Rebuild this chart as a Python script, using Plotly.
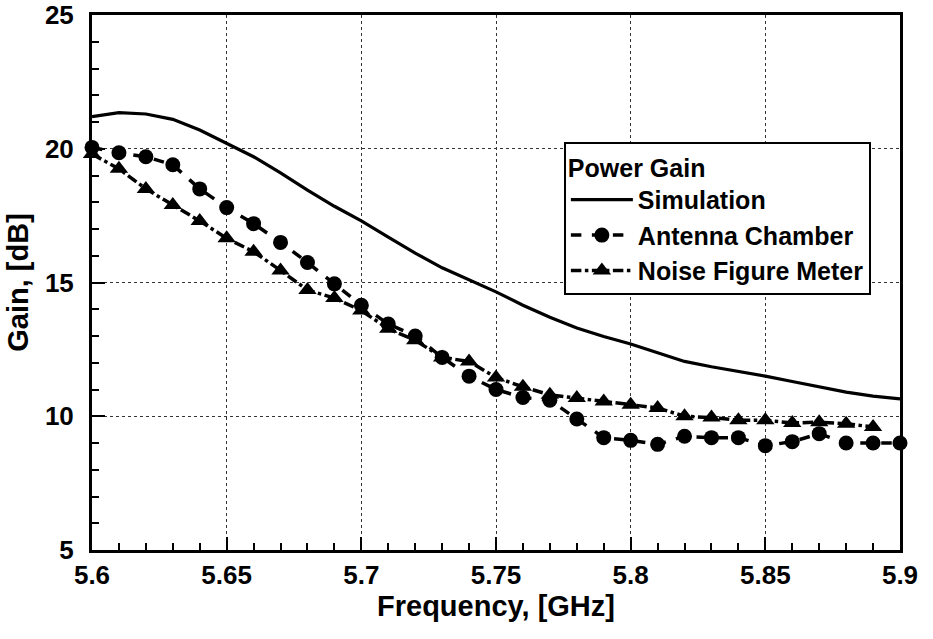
import plotly.graph_objects as go

freq = [5.60, 5.61, 5.62, 5.63, 5.64, 5.65, 5.66, 5.67, 5.68, 5.69,
        5.70, 5.71, 5.72, 5.73, 5.74, 5.75, 5.76, 5.77, 5.78, 5.79,
        5.80, 5.81, 5.82, 5.83, 5.84, 5.85, 5.86, 5.87, 5.88, 5.89, 5.90]

simulation = [21.2, 21.35, 21.3, 21.1, 20.7, 20.2, 19.7, 19.1, 18.45, 17.85,
              17.3, 16.7, 16.1, 15.55, 15.1, 14.65, 14.15, 13.7, 13.3, 12.98,
              12.7, 12.37, 12.05, 11.85, 11.68, 11.5, 11.3, 11.1, 10.9, 10.75, 10.65]

antenna = [20.05, 19.85, 19.7, 19.4, 18.5, 17.8, 17.2, 16.5, 15.75, 14.95,
           14.15, 13.45, 13.0, 12.2, 11.5, 11.0, 10.7, 10.6, 9.9, 9.2,
           9.1, 8.95, 9.25, 9.2, 9.2, 8.9, 9.05, 9.35, 9.0, 9.0, 9.0]

freq_nfm = freq[:-1]
noise_meter = [19.8, 19.25, 18.5, 17.9, 17.3, 16.65, 16.15, 15.45, 14.72, 14.42,
               13.95, 13.27, 12.84, 12.2, 12.05, 11.45, 11.1, 10.8, 10.68, 10.55,
               10.43, 10.31, 10.0, 9.95, 9.85, 9.85, 9.75, 9.78, 9.72, 9.6]

x_tickvals = [5.6, 5.65, 5.7, 5.75, 5.8, 5.85, 5.9]
x_ticktext = ["5.6", "5.65", "5.7", "5.75", "5.8", "5.85", "5.9"]
y_tickvals = [5, 10, 15, 20, 25]

FONT = "Liberation Sans, Arial, sans-serif"

fig = go.Figure()
fig.add_trace(go.Scatter(
    x=freq, y=simulation, mode="lines", name="Simulation",
    line=dict(color="black", width=3.2), cliponaxis=False))
fig.add_trace(go.Scatter(
    x=freq, y=antenna, mode="lines+markers", name="Antenna Chamber",
    line=dict(color="black", width=3.5, dash="dash"),
    marker=dict(symbol="circle", size=15, color="black"), cliponaxis=False))
fig.add_trace(go.Scatter(
    x=freq_nfm, y=noise_meter, mode="lines+markers", name="Noise Figure Meter",
    line=dict(color="black", width=3.5, dash="dashdot"),
    marker=dict(symbol="triangle-up", size=16, color="black"), cliponaxis=False))

fig.update_layout(
    width=933, height=639,
    margin=dict(l=92, r=33, t=15, b=89),
    paper_bgcolor="white", plot_bgcolor="white",
    font=dict(family=FONT, color="black", size=26, weight="bold"),
    showlegend=True,
    legend=dict(
        x=0.584, y=0.762, xanchor="left", yanchor="top",
        bgcolor="white", bordercolor="black", borderwidth=2,
        title=dict(text="Power Gain", font=dict(family=FONT, size=25, weight="bold")),
        font=dict(family=FONT, size=25, weight="bold"),
        itemwidth=62, tracegroupgap=0,
    ),
)

fig.update_xaxes(
    range=[5.6, 5.9], tickvals=x_tickvals, ticktext=x_ticktext,
    showline=True, linecolor="black", linewidth=3, mirror=True,
    ticks="inside", ticklen=13, tickwidth=2, tickcolor="black",
    minor=dict(dtick=0.01, tick0=5.6, ticks="inside", ticklen=7, tickwidth=2,
               tickcolor="black", showgrid=False),
    showgrid=True, gridcolor="#333", gridwidth=1, griddash="dot",
    tickfont=dict(family=FONT, size=26, weight="bold"),
    title=dict(text="Frequency, [GHz]", font=dict(family=FONT, size=29, weight="bold"), standoff=6),
    zeroline=False, automargin=False,
)
fig.update_yaxes(
    range=[5, 25], tickvals=y_tickvals,
    showline=True, linecolor="black", linewidth=3, mirror=True,
    ticks="inside", ticklen=13, tickwidth=2, tickcolor="black",
    minor=dict(dtick=1, tick0=5, ticks="inside", ticklen=7, tickwidth=2,
               tickcolor="black", showgrid=False),
    showgrid=True, gridcolor="#333", gridwidth=1, griddash="dot",
    tickfont=dict(family=FONT, size=26, weight="bold"),
    ticklabelstandoff=10,
    title=dict(text="Gain, [dB]", font=dict(family=FONT, size=29, weight="bold"), standoff=8),
    zeroline=False, automargin=False,
)

fig.write_html("out.html")
